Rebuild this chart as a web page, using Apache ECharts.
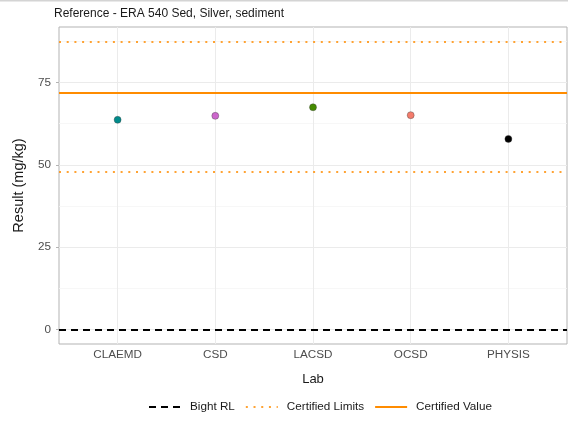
<!DOCTYPE html>
<html>
<head>
<meta charset="utf-8">
<script src="https://cdn.jsdelivr.net/npm/echarts@6/dist/echarts.min.js"></script>
<style>
  html, body { margin: 0; padding: 0; background: #ffffff; }
  #chart { width: 568px; height: 429px; }
</style>
</head>
<body>
<div id="chart"></div>
<script>
// Reference - ERA 540 Sed, Silver, sediment — lab results vs certified value.

// ── Data ──────────────────────────────────────────────────────────────
const labs = ['CLAEMD', 'CSD', 'LACSD', 'OCSD', 'PHYSIS'];
const results = [63.7, 64.9, 67.5, 65.1, 57.9];
const bightRL = [0];
const certifiedLimits = [47.9, 87.5];
const certifiedValue = [72.0];
const yMajor = [0, 25, 50, 75];
const yMinor = [12.5, 37.5, 62.5, 87.5];

// Point colours, one per lab (ggplot palette).
const labColors = ['#008B8B', '#CC66CC', '#458B00', '#F47C6C', '#000000'];

const FONT = '"Liberation Sans", Arial, sans-serif';
const ORANGE = '#FF8C00';
const GRID_MAJOR = '#EBEBEB';
const GRID_MINOR = '#F5F5F5';

const chart = echarts.init(document.getElementById('chart'), null, { renderer: 'canvas' });

// x positions are the 1-based category index, ggplot-style discrete scale
const points = results.map((v, i) => ({
    value: [i + 1, v],
    itemStyle: { color: labColors[i] }
}));

const refLine = (name, values, style) => ({
    name: name,
    type: 'line',
    data: [],
    symbol: 'none',
    lineStyle: style,
    itemStyle: { color: style.color },
    z: 3,
    markLine: {
        silent: true,
        symbol: ['none', 'none'],
        label: { show: false },
        lineStyle: style,
        emphasis: { disabled: true },
        animation: false,
        data: values.map(v => ({ yAxis: v }))
    }
});

chart.setOption({
    animation: false,
    backgroundColor: '#ffffff',
    textStyle: { fontFamily: FONT },
    title: {
        text: 'Reference - ERA 540 Sed, Silver, sediment',
        left: 54,
        top: 8,
        padding: 0,
        textStyle: { fontSize: 12, fontWeight: 'normal', color: '#1a1a1a', fontFamily: FONT }
    },
    graphic: [{
        type: 'rect',
        shape: { x: 0, y: 0, width: 568, height: 1.5 },
        style: { fill: '#D4D4D4' },
        silent: true
    }],
    legend: {
        left: 143,
        top: 396,
        itemWidth: 32,
        itemHeight: 12,
        itemGap: 10,
        selectedMode: false,
        itemStyle: { opacity: 0, borderWidth: 0 },
        data: ['Bight RL', 'Certified Limits', 'Certified Value'],
        textStyle: { fontSize: 11.7, color: '#1a1a1a', fontFamily: FONT, padding: [0, 0, 0, 4] }
    },
    grid: {
        left: 59,
        right: 1,
        top: 27,
        bottom: 85,
        show: true,
        borderColor: '#B3B3B3',
        borderWidth: 1,
        containLabel: false,
        outerBoundsMode: 'none'
    },
    xAxis: {
        type: 'value',
        min: 0.4,
        max: 5.6,
        name: 'Lab',
        nameLocation: 'middle',
        nameGap: 29,
        nameTextStyle: { fontSize: 13, color: '#1a1a1a', fontFamily: FONT },
        axisLine: { show: false },
        splitLine: { show: false },
        axisTick: {
            show: true,
            length: 3,
            customValues: [1, 2, 3, 4, 5],
            lineStyle: { color: '#B3B3B3' }
        },
        axisLabel: {
            margin: 5,
            fontSize: 11.7,
            color: '#4D4D4D',
            fontFamily: FONT,
            customValues: [1, 2, 3, 4, 5],
            formatter: v => labs[Math.round(v) - 1] || ''
        }
    },
    yAxis: {
        type: 'value',
        min: -4.375,
        max: 91.875,
        name: 'Result (mg/kg)',
        nameLocation: 'middle',
        nameGap: 33,
        nameTextStyle: { fontSize: 14.5, color: '#1a1a1a', fontFamily: FONT },
        axisLine: { show: false },
        splitLine: { show: false },
        axisTick: {
            show: true,
            length: 3,
            customValues: yMajor,
            lineStyle: { color: '#B3B3B3' }
        },
        axisLabel: {
            margin: 8,
            fontSize: 11.7,
            color: '#4D4D4D',
            fontFamily: FONT,
            customValues: yMajor
        }
    },
    series: [
        // panel grid lines, drawn through the axes' own scales
        {
            type: 'scatter',
            data: [],
            z: 1,
            markLine: {
                silent: true,
                symbol: ['none', 'none'],
                label: { show: false },
                animation: false,
                emphasis: { disabled: true },
                data: [
                    ...yMinor.map(v => ({ yAxis: v, lineStyle: { color: GRID_MINOR, width: 0.8, type: 'solid' } })),
                    ...yMajor.map(v => ({ yAxis: v, lineStyle: { color: GRID_MAJOR, width: 1, type: 'solid' } })),
                    ...labs.map((l, i) => ({ xAxis: i + 1, lineStyle: { color: GRID_MAJOR, width: 1, type: 'solid' } }))
                ]
            }
        },
        refLine('Bight RL', bightRL, { color: '#000000', width: 2.2, type: [7, 5] }),
        refLine('Certified Limits', certifiedLimits, { color: ORANGE, width: 2, type: [2, 5.7], opacity: 0.8 }),
        refLine('Certified Value', certifiedValue, { color: ORANGE, width: 2, type: 'solid' }),
        {
            name: 'Results',
            type: 'scatter',
            symbol: 'circle',
            symbolSize: 7,
            z: 5,
            itemStyle: { borderColor: 'rgba(60,60,60,0.55)', borderWidth: 0.7, opacity: 1 },
            emphasis: { disabled: true },
            data: points
        }
    ]
});
</script>
</body>
</html>
